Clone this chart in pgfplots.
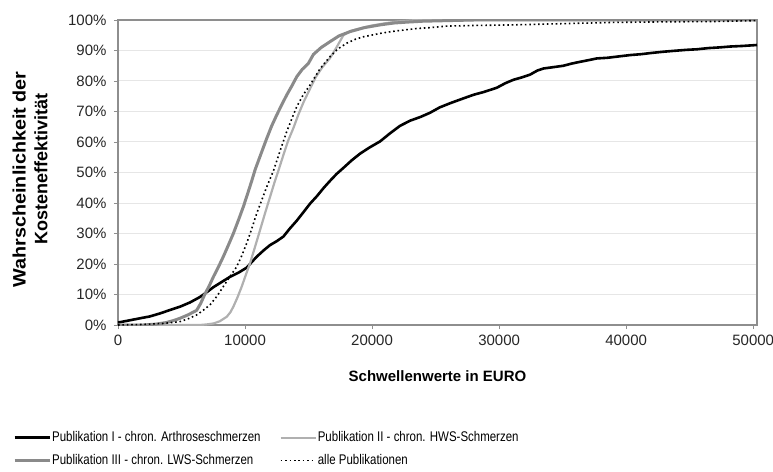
\documentclass[border=0pt]{standalone}
\usepackage{pgfplots}
\pgfplotsset{compat=1.18}
\usepackage{fontspec}
\setmainfont{Liberation Sans}
\newfontfamily\legfont[FakeStretch=0.82]{Liberation Sans}
\definecolor{gridc}{HTML}{E6E6E6}
\definecolor{boxc}{HTML}{8E8E8E}
\definecolor{lwsc}{HTML}{8A8A8A}
\definecolor{hwsc}{HTML}{B0B0B0}
\begin{document}
\begin{tikzpicture}
\begin{axis}[
  at={(0,0)}, anchor=south west,
  scale only axis, width=639bp, height=305bp,
  xmin=0, xmax=50300, ymin=0, ymax=100,
  scaled x ticks=false,
  xtick={0,10000,20000,30000,40000,50000},
  xticklabels={0,10000,20000,30000,40000,50000},
  ytick={0,10,...,100},
  yticklabels={0\%,10\%,20\%,30\%,40\%,50\%,60\%,70\%,80\%,90\%,100\%},
  tick label style={font=\fontsize{15bp}{18bp}\selectfont, text=black!85},
  xticklabel style={yshift=-3bp},
  yticklabel style={xshift=-4bp},
  axis line style={boxc, line width=1.2bp},
  tick style={boxc, line width=0.8bp},
  tick align=outside, major tick length=4bp,
  xtick pos=bottom, ytick pos=left,
  ymajorgrids, grid style={gridc, line width=1bp},
  xlabel={Schwellenwerte in EURO},
  xlabel style={font=\bfseries\fontsize{15bp}{18bp}\selectfont, at={(axis description cs:0.5,0)}, anchor=center, yshift=-51bp},
  ylabel={\scalebox{1.1}[1]{Wahrscheinlichkeit der}\hspace*{20bp}\\Kosteneffektivität},
  ylabel style={font=\bfseries\fontsize{18bp}{21.7bp}\selectfont, align=center, at={(axis description cs:-0.1377,0.51)}, anchor=center},
  legend columns=2,
  legend cell align=left,
  legend style={draw=none, fill=none, inner sep=0pt, at={(axis description cs:-0.1643,-0.344)}, anchor=north west,
    font=\legfont\fontsize{14bp}{16bp}\selectfont,
    nodes={inner xsep=0bp, inner ysep=1bp, text height=10bp, text depth=3bp},
    row sep=8bp,
    /tikz/every odd column/.append style={column sep=1bp},
    /tikz/every even column/.append style={column sep=19bp}},
  legend image code/.code={\draw[#1] (0bp,0bp) -- (35bp,0bp);},
]
\addplot[black, line width=2.6bp] coordinates {
(0,0.8) (1000,1.6) (1730,2.2) (2500,2.8) (3310,3.8) (4360,5.3) (4880,6.0) (5670,7.4) (6460,9.2) (7000,10.8) (7510,12.4) (8200,14.2) (8820,15.8) (9500,17.2) (10130,18.8) (10500,20.5) (10920,22.4) (11500,24.6) (11970,26.2) (12500,27.5) (13020,29) (13500,31.5) (14070,34.2) (14600,37) (15120,39.8) (15650,42.2) (16200,45) (16700,47.3) (17200,49.5) (17740,51.5) (18400,54) (19060,56.2) (19800,58.2) (20630,60.2) (21400,62.8) (22200,65.3) (23000,67) (23800,68.2) (24570,69.6) (25300,71.3) (26200,72.8) (27190,74.3) (28000,75.5) (28800,76.4) (29820,77.8) (30500,79.3) (31130,80.4) (31800,81.2) (32440,82.1) (33000,83.4) (33490,84.1) (34200,84.5) (35060,85.0) (35700,85.7) (36380,86.3) (37000,86.8) (37690,87.4) (38500,87.6) (39300,88.0) (40310,88.5) (41200,88.8) (42000,89.2) (42940,89.6) (43800,89.9) (44700,90.2) (45570,90.4) (46500,90.8) (47300,91.0) (48190,91.3) (49200,91.5) (50300,91.8)
};
\addlegendentry{Publikation I - chron. Arthroseschmerzen}
\addplot[hwsc, line width=2.2bp] coordinates {
(0,0) (6460,0) (7000,0.2) (7510,0.5) (8000,1.2) (8560,2.7) (8850,4.2) (9080,6) (9400,9) (9740,12.6) (10050,16.3) (10390,20.2) (10800,25.8) (11180,31.1) (11600,37) (11970,42) (12300,46.5) (12620,50.5) (13000,55.5) (13400,60.5) (13800,64.5) (14200,69) (14600,73) (15120,77.5) (15600,81.5) (16100,84.6) (16690,87.5) (17200,91) (17740,95) (18300,96.4) (19000,97.2) (20000,98.2) (21000,98.9) (22000,99.5) (23500,100) (50300,100)
};
\addlegendentry{Publikation II - chron. HWS-Schmerzen}
\addplot[lwsc, line width=3bp] coordinates {
(0,0) (2000,0) (3000,0.3) (3800,0.8) (4400,1.5) (4880,2.2) (5500,3.3) (6190,4.8) (6500,7) (6850,10.2) (7200,13) (7510,15.8) (7900,19) (8290,22.4) (8700,26.3) (9080,30) (9500,34.6) (9870,38.8) (10200,43) (10530,47.3) (10800,51) (11200,55.5) (11710,61.2) (12100,65.3) (12500,68.9) (12900,72.3) (13280,75.4) (13700,78.5) (14070,81.4) (14500,83.8) (14990,85.8) (15380,88.7) (16000,91) (16690,92.9) (17400,94.8) (18270,96.2) (19400,97.5) (20630,98.4) (21700,99) (22730,99.3) (24000,99.6) (26000,99.8) (28000,100) (50300,100)
};
\addlegendentry{Publikation III - chron. LWS-Schmerzen}
\addplot[black, line width=1.6bp, dash pattern=on 1.6bp off 2.8bp] coordinates {
(0,0) (2000,0.2) (3500,0.5) (4880,1.1) (5500,2) (6190,3.3) (6700,4.8) (7240,6.6) (7800,9.5) (8290,12.6) (8800,15.8) (9340,19.1) (9750,22.8) (10130,26.8) (10500,31.2) (10920,36.6) (11300,40.8) (11710,45.3) (12230,50.5) (12750,57) (13280,63.4) (13700,67.8) (14070,71.6) (14600,75.6) (15120,78.7) (15900,84) (16690,88) (17300,90.5) (18010,92.4) (18700,93.7) (19320,94.5) (20630,95.6) (21500,96.2) (22470,96.7) (23500,97.2) (24570,97.5) (25880,98.0) (28000,98.2) (31130,98.4) (35000,98.8) (39000,99.2) (43000,99.4) (46850,99.5) (50300,99.8)
};
\addlegendentry{alle Publikationen}
\end{axis}
\pgfresetboundingbox
\path[use as bounding box] (-118bp,-147bp) rectangle (655bp,325bp);
\end{tikzpicture}
\end{document}
